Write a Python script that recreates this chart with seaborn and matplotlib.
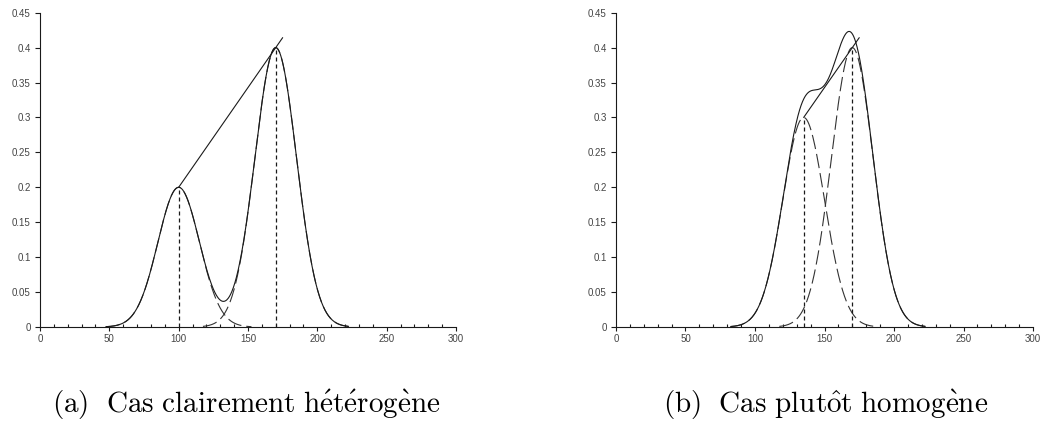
import numpy as np
import pandas as pd
import matplotlib
matplotlib.use("Agg")
import matplotlib.pyplot as plt
import seaborn as sns
from matplotlib.ticker import MultipleLocator, FuncFormatter

# ---- data ----
means_a = [100, 170]          # component centres, panel (a)
heights_a = [0.2, 0.4]        # component peak heights, panel (a)
means_b = [135, 170]          # component centres, panel (b)
heights_b = [0.3, 0.4]        # component peak heights, panel (b)
sigma = 15                    # common component width
half_span = 52.5              # curves drawn over centre +/- this
line_end_x = 175              # end of the straight line through the peaks
captions = [r"$\mathrm{(a)\ \ Cas\ clairement\ h\acute{e}t\acute{e}rog\grave{e}ne}$",
            r"$\mathrm{(b)\ \ Cas\ plut\hat{o}t\ homog\grave{e}ne}$"]
x_ticks = [0, 50, 100, 150, 200, 250, 300]
y_ticks = [0, 0.05, 0.1, 0.15, 0.2, 0.25, 0.3, 0.35, 0.4, 0.45]

sns.set_style("ticks")
plt.rcParams["mathtext.fontset"] = "cm"
plt.rcParams["font.family"] = ["Liberation Sans", "DejaVu Sans"]

fig = plt.figure(figsize=(10.45, 4.23), dpi=100)
ax_a = fig.add_axes([40 / 1045, 96 / 423, 416 / 1045, 314.3 / 423])
ax_b = fig.add_axes([616 / 1045, 96 / 423, 417 / 1045, 314.3 / 423])

ink = "#1a1a1a"
dash_ink = "#333333"


def gauss(x, m, h):
    return h * np.exp(-(x - m) ** 2 / (2 * sigma ** 2))


def panel(ax, means, heights):
    for m, h in zip(means, heights):
        gx = np.linspace(m - half_span, m + half_span, 400)
        sns.lineplot(x=gx, y=gauss(gx, m, h), ax=ax, color=dash_ink, lw=0.8,
                     linestyle=(0, (13, 4.5)), sort=False)
    tx = np.linspace(min(means) - half_span, max(means) + half_span, 800)
    total = sum(gauss(tx, m, h) for m, h in zip(means, heights))
    sns.lineplot(x=tx, y=total, ax=ax, color=ink, lw=0.8, sort=False)
    # straight line through the two peaks, extended
    slope = (heights[1] - heights[0]) / (means[1] - means[0])
    lx = np.array([means[0], line_end_x])
    ly = heights[0] + slope * (lx - means[0])
    sns.lineplot(x=lx, y=ly, ax=ax, color=ink, lw=0.8, sort=False)
    # dotted verticals at the centres
    ax.vlines(means, 0, heights, colors=ink, lw=0.9, linestyles=(0, (3.2, 2.4)))

    ax.set_xlim(0, 300)
    ax.set_ylim(0, 0.45)
    ax.set_xticks(x_ticks)
    ax.set_yticks(y_ticks)
    ax.xaxis.set_minor_locator(MultipleLocator(10))
    ax.yaxis.set_major_formatter(FuncFormatter(lambda v, p: f"{v:g}"))
    ax.tick_params(axis="x", which="major", direction="out", length=3,
                   width=0.8, pad=2, labelsize=7, labelcolor="#444444", color=ink)
    ax.tick_params(axis="x", which="minor", direction="in", length=2.5,
                   width=0.8, color=ink)
    ax.tick_params(axis="y", which="major", direction="out", length=3.6,
                   width=0.8, pad=3, labelsize=7, labelcolor="#444444", color=ink)
    for s in ["top", "right"]:
        ax.spines[s].set_visible(False)
    for s in ["left", "bottom"]:
        ax.spines[s].set_linewidth(0.8)
        ax.spines[s].set_color(ink)
    ax.set_xlabel("")
    ax.set_ylabel("")


panel(ax_a, means_a, heights_a)
panel(ax_b, means_b, heights_b)

fig.text(246.5 / 1045, 1 - 413 / 423, captions[0], fontsize=21,
         ha="center", va="baseline", color="black")
fig.text(825.5 / 1045, 1 - 413 / 423, captions[1], fontsize=21,
         ha="center", va="baseline", color="black")

fig.savefig("out.png", dpi=100)
